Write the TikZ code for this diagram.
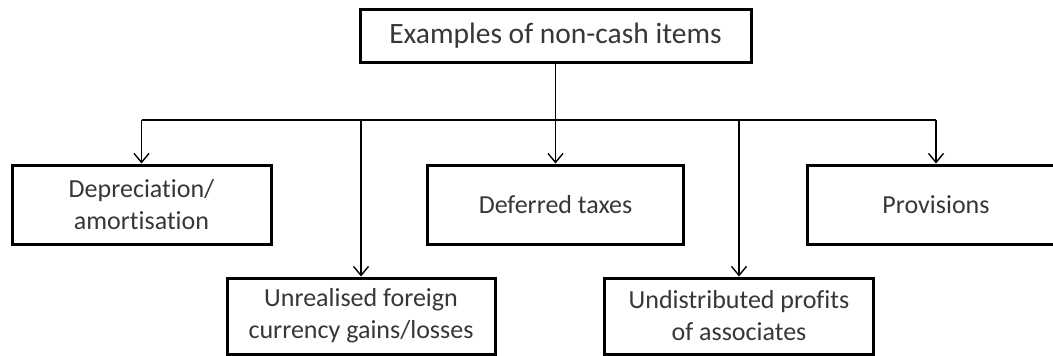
\documentclass[tikz,border=0pt]{standalone}
\usepackage{fontspec}
\setmainfont{Carlito}[Ligatures={NoCommon,NoRare}]
\usetikzlibrary{arrows.meta}
\definecolor{txt}{RGB}{55,55,55}
\tikzset{
  box/.style={draw=black, line width=3pt, fill=white, text=txt, align=center,
    inner sep=0pt, font=\fontsize{26}{32}\selectfont},
  conn/.style={draw=black, line width=1.4pt},
  arr/.style={conn, -{Straight Barb[length=9pt,width=15pt,line width=1.4pt]}}
}
\begin{document}
\begin{tikzpicture}[x=1pt,y=-1pt]
\useasboundingbox (0,0) rectangle (1053,356);
\fill[white] (0,0) rectangle (1053,356);
\node[box, minimum width=391pt, minimum height=53pt, font=\fontsize{29.5}{35}\selectfont] (top) at (555.5,35.5) {Examples of non-cash items};
\node[box, minimum width=259pt, minimum height=79pt] (dep) at (141.5,204.5) {Depreciation/\\amortisation};
\node[box, minimum width=256pt, minimum height=79pt] (def) at (555.5,204.5) {Deferred taxes};
\node[box, minimum width=258pt, minimum height=79pt] (prov) at (936,204.5) {Provisions};
\node[box, minimum width=268pt, minimum height=76pt] (unr) at (361,316) {Unrealised foreign\\currency gains/losses};
\node[box, minimum width=269pt, minimum height=76pt] (und) at (739,316) {Undistributed profits\\of associates};
\coordinate (busC) at (555.5,120);
\coordinate (busL) at (141.5,120);
\coordinate (busR) at (936,120);
\draw[conn] (top.south) -- (busC);
\draw[conn] (busL) -- (busR);
\draw[arr] (busL) -- (dep.north);
\draw[arr] (busC) -- (def.north);
\draw[arr] (busR) -- (prov.north);
\draw[arr] (unr.north |- busC) -- (unr.north);
\draw[arr] (und.north |- busC) -- (und.north);
\end{tikzpicture}
\end{document}
